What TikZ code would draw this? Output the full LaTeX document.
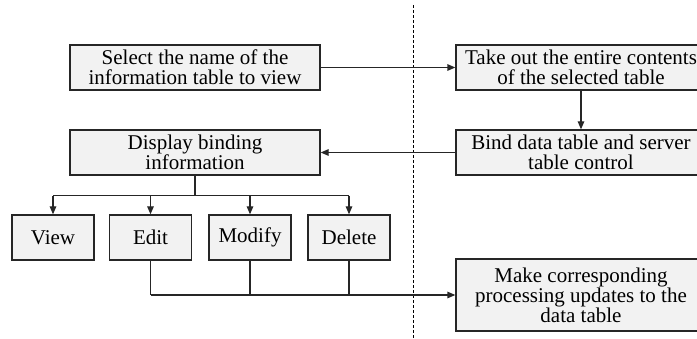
\documentclass[tikz,border=0pt]{standalone}
\usepackage{fontspec}
\setmainfont{Liberation Serif}
\usetikzlibrary{arrows.meta,calc}
\tikzset{
  box/.style={draw=black!85, line width=1.3pt, fill=black!5, inner sep=0pt,
    minimum height=45pt, align=center,
    font=\fontsize{21}{20}\selectfont},
  widebox/.style={box, minimum width=250pt},
  smallbox/.style={box, minimum width=82pt},
  link/.style={draw=black!85, line width=1.3pt},
  arr/.style={link, -{Triangle[length=8pt,width=6.5pt]}},
}
\begin{document}
\begin{tikzpicture}[x=1pt,y=-1pt]
\useasboundingbox (0,0) rectangle (697,339);

% boundary between client side and server side
\coordinate (sepTop) at (413,5);
\coordinate (sepBot) at (413,339);
\draw[black, line width=0.8pt, dash pattern=on 3pt off 2pt] (sepTop) -- (sepBot);

% main flow
\node[widebox] (sel)  at (195,67.5)  {Select the name of the\\information table to view};
\node[widebox] (take) at (581,67.5)  {Take out the entire contents\\of the selected table};
\node[widebox] (bind) at (581,152.5) {Bind data table and server\\table control};
\node[widebox] (disp) at (195,152.5) {Display binding\\information};

% operations
\node[smallbox] (view)   at (53,237.5)  {View};
\node[smallbox] (edit)   at (150.5,237.5) {Edit};
\node[smallbox] (modify) at (250,237.5) {Modify};
\node[smallbox] (delete) at (349,237.5) {Delete};

\node[widebox, minimum height=72pt] (make) at (581,295)
  {Make corresponding\\processing updates to the\\data table};

\draw[arr] (sel.east) -- (take.west);
\draw[arr] (take.south) -- (bind.north);
\draw[arr] (bind.west) -- (disp.east);

% distribution bus to the operations
\coordinate (bus) at ($(disp.south)+(0,20)$);
\draw[link] (disp.south) -- (bus);
\draw[link] (view.north |- bus) -- (delete.north |- bus);
\foreach \n in {view,edit,modify,delete}
  \draw[arr] (\n.north |- bus) -- (\n.north);

% collecting line to the update step
\draw[link] (edit.south) -- (edit.south |- make.west);
\draw[link] (modify.south) -- (modify.south |- make.west);
\draw[link] (delete.south) -- (delete.south |- make.west);
\draw[arr] (edit.south |- make.west) -- (make.west);
\end{tikzpicture}
\end{document}
